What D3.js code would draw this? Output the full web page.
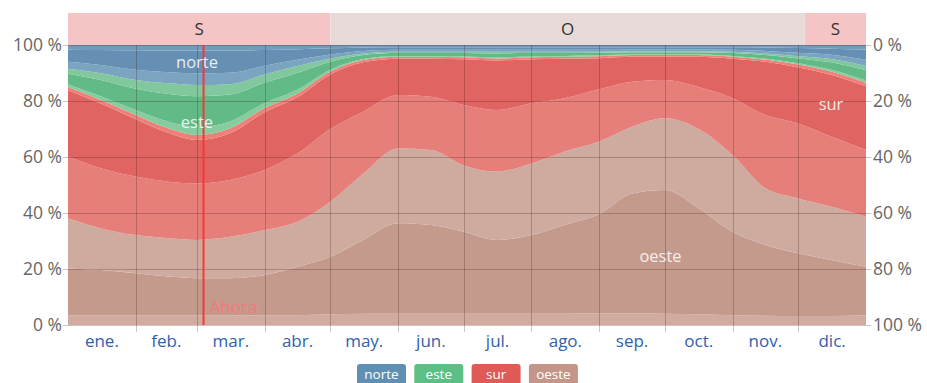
<!DOCTYPE html>
<html>
<head>
<meta charset="utf-8">
<script src="https://cdn.jsdelivr.net/npm/d3@7"></script>
<style>
  html, body { margin: 0; padding: 0; background: #ffffff; }
  svg { display: block; font-family: "Open Sans", "Noto Sans", sans-serif; }
</style>
</head>
<body>
<svg id="chart" width="927" height="383"></svg>
<script>
// ---- data (percent of hours per wind-direction band, bottom to top) ----
const sampleDates = ["2023-01-01","2023-01-16","2023-02-01","2023-02-16","2023-03-01","2023-03-16",
  "2023-04-01","2023-04-16","2023-05-01","2023-05-16","2023-06-01","2023-06-16","2023-07-01","2023-07-16",
  "2023-08-01","2023-08-16","2023-09-01","2023-09-16","2023-10-01","2023-10-16","2023-11-01","2023-11-16",
  "2023-12-01","2023-12-16","2023-12-31"];

const oesteNO = [3.5,3.5,3.5,3.5,3.5,3.5,3.5,3.5,3.8,4,4,4,4,4,4,4,4.2,4.2,4,3.8,3.5,3.3,3.2,3.2,3.5];
const oesteW  = [16.7,16.1,15,13.8,13.2,13.2,14.4,17.3,20.6,26.4,32.3,31.7,29.3,26.4,28.1,31.7,35.4,42.8,44.2,38.2,29.8,25.3,22.4,20,17.3];
const oesteSO = [17.9,14.9,13.6,13.7,13.7,14.8,16,16.1,19.6,23.6,26.7,26.8,23.7,24.4,25.6,26.2,25.9,23.8,25.6,28.2,27.4,20.2,19.6,19.1,17.9];
const surSO   = [22,21.5,20.9,20.2,20.2,20.3,21.5,24.4,26,22.2,19.1,19,21.6,22,21.5,19.1,18.7,16.1,13.7,14.9,20.3,26.2,26.8,25,23.8];
const surS    = [23.7,23.1,20.5,17.4,15.5,16.7,20.6,20.1,19.5,17.6,13,13.6,16.3,17.7,15.7,14.1,11.1,8.9,8.3,10.7,14.1,19,20,22.1,22.8];
const surSE   = [1.2,1.3,1.5,1.6,1.8,1.7,1.5,1.3,1,0.8,0.7,0.7,0.7,0.7,0.7,0.7,0.7,0.6,0.6,0.6,0.7,0.8,1,1.1,1.2];
const esteSE  = [1,1.3,1.8,2.4,2.8,2.5,1.8,1.4,0.7,0.4,0.3,0.3,0.3,0.4,0.3,0.3,0.3,0.2,0.2,0.2,0.3,0.3,0.5,0.7,0.9];
const esteE   = [3.7,5.8,7.6,9.9,11,9.6,7.3,6,2.8,1.4,1,1,1.2,1.4,1.2,1,0.9,0.8,0.8,0.8,1,1.3,1.7,2.6,3.6];
const esteNE  = [1.8,2.4,3.1,3.8,4,3.7,2.9,2.4,1.2,0.6,0.5,0.5,0.5,0.6,0.5,0.5,0.4,0.4,0.4,0.4,0.5,0.6,0.8,1.2,1.5];
const norteNE = [2.5,3,3.7,4,4.2,4.1,3.1,2.2,1.4,0.9,0.7,0.7,0.7,0.7,0.7,0.7,0.7,0.6,0.6,0.6,0.7,0.9,1.2,1.5,2.2];
const norteN  = [4.3,5.3,6.9,7.7,8.1,7.9,5.6,3.8,2.2,1.2,0.9,0.9,0.9,0.9,0.9,0.9,0.9,0.8,0.8,0.8,0.9,1.2,1.7,2.2,3.7];
const norteNO = [1.7,1.8,1.9,2,2,2,1.8,1.5,1.2,0.9,0.8,0.8,0.8,0.8,0.8,0.8,0.8,0.8,0.8,0.8,0.8,0.9,1.1,1.3,1.6];

const monthLabels = ["ene.","feb.","mar.","abr.","may.","jun.","jul.","ago.","sep.","oct.","nov.","dic."];
const leftTicks = [0,20,40,60,80,100];
const dominantLabels = ["S","O","S"];
const dominantStarts = ["2023-01-01","2023-05-01","2023-12-04"];
const dominantEnds   = ["2023-05-01","2023-12-04","2024-01-01"];
const legendNames = ["norte","este","sur","oeste"];
const nowDate = "2023-03-04";

(function () {
// ---- layout ----
const pL = 68, pR = 866, pT = 45, pB = 325;
const svg = d3.select("#chart");
const parse = d3.utcParse("%Y-%m-%d");

const x = d3.scaleUtc().domain([parse("2023-01-01"), parse("2024-01-01")]).range([pL, pR]);
const y = d3.scaleLinear().domain([0, 100]).range([pB, pT]);

const keys = ["oesteNO","oesteW","oesteSO","surSO","surS","surSE","esteSE","esteE","esteNE","norteNE","norteN","norteNO"];
const series = {oesteNO, oesteW, oesteSO, surSO, surS, surSE, esteSE, esteE, esteNE, norteNE, norteN, norteNO};
const colors = {
  oesteNO: "#d1ab9f", oesteW: "#c49a8d", oesteSO: "#cfab9f",
  surSO: "#e67f7a", surS: "#e06461", surSE: "#ee8079",
  esteSE: "#86cc9e", esteE: "#62bb86", esteNE: "#82c89e",
  norteNE: "#7ba4c1", norteN: "#6590b3", norteNO: "#729cbd"
};

const rows = sampleDates.map((d, i) => {
  const r = {date: parse(d)};
  keys.forEach(k => r[k] = series[k][i]);
  return r;
});
rows[rows.length - 1].date = parse("2024-01-01");

const stacked = d3.stack().keys(keys)(rows);
const area = d3.area()
  .x(d => x(d.data.date))
  .y0(d => y(d[0]))
  .y1(d => y(d[1]))
  .curve(d3.curveMonotoneX);

// top band of dominant directions
const bandColors = {"S": "#f5c4c4", "O": "#e9dada"};
dominantLabels.forEach((lab, i) => {
  const x0 = x(parse(dominantStarts[i])), x1 = x(parse(dominantEnds[i]));
  svg.append("rect").attr("x", x0).attr("y", 13).attr("width", x1 - x0).attr("height", pT - 13)
    .attr("fill", bandColors[lab]);
  svg.append("text").attr("x", (x0 + x1) / 2).attr("y", 35).attr("text-anchor", "middle")
    .attr("font-size", 17).attr("fill", "#333").text(lab);
});

// areas
svg.append("g").selectAll("path").data(stacked).join("path")
  .attr("d", area).attr("fill", d => colors[d.key]);

// grid
const grid = svg.append("g").attr("stroke", "rgba(60,20,20,0.25)").attr("stroke-width", 1);
leftTicks.forEach(t => {
  grid.append("line").attr("x1", pL - 5).attr("x2", pR + 5)
    .attr("y1", Math.round(y(t)) + 0.5).attr("y2", Math.round(y(t)) + 0.5);
});
const monthStarts = d3.utcMonths(parse("2023-02-01"), parse("2023-12-02"));
monthStarts.forEach(m => {
  grid.append("line").attr("x1", Math.round(x(m)) + 0.5).attr("x2", Math.round(x(m)) + 0.5)
    .attr("y1", pT).attr("y2", pB + 7);
});

// y axes labels
const yLeft = d3.axisLeft(y).tickValues(leftTicks).tickFormat(d => d + " %").tickSize(0).tickPadding(6);
const gl = svg.append("g").attr("transform", `translate(${pL},0)`).call(yLeft);
gl.select(".domain").remove();
gl.selectAll("text").attr("font-size", 17.5).attr("fill", "#666").attr("font-family", "Open Sans, sans-serif");

const yRightScale = d3.scaleLinear().domain([100, 0]).range([pB, pT]);
const yRight = d3.axisRight(yRightScale).tickValues(leftTicks).tickFormat(d => d + " %").tickSize(0).tickPadding(7);
const gr = svg.append("g").attr("transform", `translate(${pR},0)`).call(yRight);
gr.select(".domain").remove();
gr.selectAll("text").attr("font-size", 17.5).attr("fill", "#666").attr("font-family", "Open Sans, sans-serif");

// month labels
const monthMids = d3.utcMonths(parse("2023-01-01"), parse("2024-01-01")).map(m => {
  const e = d3.utcMonth.offset(m, 1);
  return new Date((m.getTime() + e.getTime()) / 2);
});
svg.append("g").selectAll("text").data(monthLabels).join("text")
  .attr("x", (d, i) => x(monthMids[i])).attr("y", 347).attr("text-anchor", "middle")
  .attr("font-size", 17).attr("fill", "#2f5fb3").text(d => d);

// now line
const nx = x(parse(nowDate));
svg.append("line").attr("x1", nx).attr("x2", nx).attr("y1", pT).attr("y2", pB)
  .attr("stroke", "#f23a3a").attr("stroke-width", 2);
svg.append("text").attr("x", nx + 6).attr("y", 313).attr("font-size", 17)
  .attr("fill", "#f07a7a").text("Ahora");

// direction labels in chart
const inLabels = [
  {t: "norte", d: "2023-03-01", v: 94},
  {t: "este", d: "2023-03-01", v: 72.5},
  {t: "sur", d: "2023-12-16", v: 79},
  {t: "oeste", d: "2023-09-29", v: 24.5}
];
svg.append("g").selectAll("text").data(inLabels).join("text")
  .attr("x", d => x(parse(d.d))).attr("y", d => y(d.v)).attr("dy", "0.35em")
  .attr("text-anchor", "middle").attr("font-size", 16.5).attr("fill", "rgba(255,255,255,0.85)")
  .text(d => d.t);

// legend
const legendColors = {norte: "#5f8fb3", este: "#5cbf86", sur: "#e05a57", oeste: "#c49689"};
const lw = 49, lgap = 8.3, lx0 = 357;
const lg = svg.append("g");
legendNames.forEach((n, i) => {
  const bx = lx0 + i * (lw + lgap);
  lg.append("rect").attr("x", bx).attr("y", 364).attr("width", lw).attr("height", 22).attr("rx", 3)
    .attr("fill", legendColors[n]);
  lg.append("text").attr("x", bx + lw / 2).attr("y", 379).attr("text-anchor", "middle")
    .attr("font-size", 13.5).attr("fill", "#ffffff").text(n);
});
})();
</script>
</body>
</html>
